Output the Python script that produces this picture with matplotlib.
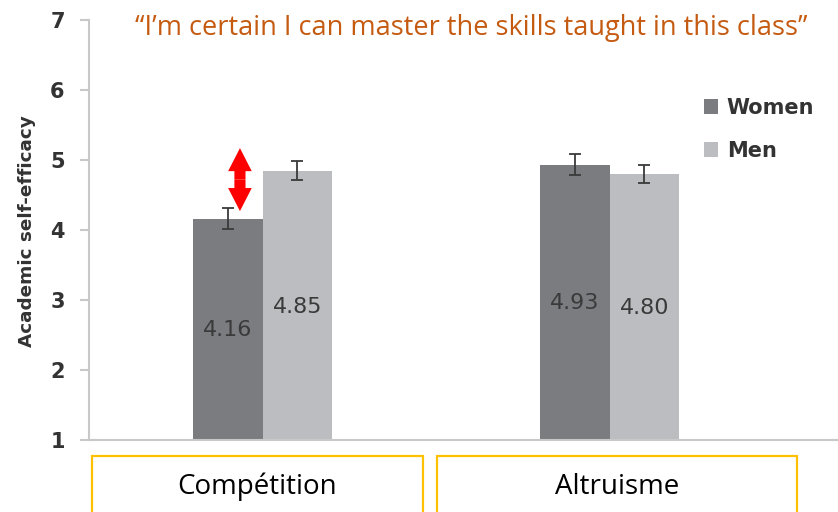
import matplotlib
matplotlib.use("Agg")
import matplotlib.pyplot as plt
from matplotlib.patches import Rectangle
import numpy as np

# data
categories = ["Compétition", "Altruisme"]
women = [4.16, 4.93]
men = [4.85, 4.80]
women_err = [0.15, 0.15]
men_err = [0.14, 0.13]
women_labels = ["4.16", "4.93"]
men_labels = ["4.85", "4.80"]

plt.rcParams['font.family'] = ['Open Sans', 'DejaVu Sans']

fig = plt.figure(figsize=(8.38, 5.12), dpi=100)
ax = fig.add_axes([89 / 838, 72 / 512, 1 - 89 / 838, 420 / 512])

x = np.arange(len(categories))
w = 0.2
c_women = "#7b7c80"
c_men = "#bcbdc0"
ecol = "#3a3a3a"

ax.bar(x - w / 2, np.array(women) - 1, w, bottom=1, color=c_women, label="Women",
       yerr=women_err, error_kw=dict(ecolor=ecol, elinewidth=1.3, capsize=4.5, capthick=1.3))
ax.bar(x + w / 2, np.array(men) - 1, w, bottom=1, color=c_men, label="Men",
       yerr=men_err, error_kw=dict(ecolor=ecol, elinewidth=1.3, capsize=4.5, capthick=1.3))

# value labels inside the bars
label_y_women = [2.57, 2.96]
label_y_men = [2.90, 2.89]
for i in range(len(categories)):
    ax.text(x[i] - w / 2, label_y_women[i], women_labels[i], ha="center", va="center",
            fontsize=16, color="#3a3a3a", family="DejaVu Sans")
    ax.text(x[i] + w / 2, label_y_men[i], men_labels[i], ha="center", va="center",
            fontsize=16, color="#3a3a3a", family="DejaVu Sans")

ax.set_xlim(-0.5, (838 - 89) / 347 - 0.5)
ax.set_ylim(1, 7)
ax.set_yticks(range(1, 8))
ax.set_xticks([])
ax.tick_params(axis="y", length=6.5, width=1.5, color="#c8c8c8", pad=11,
               labelsize=15, labelcolor="#333333")
for lab in ax.get_yticklabels():
    lab.set_fontweight("bold")
    lab.set_family("DejaVu Sans")
for s in ["top", "right"]:
    ax.spines[s].set_visible(False)
for s in ["left", "bottom"]:
    ax.spines[s].set_color("#c8c8c8")
    ax.spines[s].set_linewidth(1.5)

fig.text(27 / 838, 1 - 231 / 512, "Academic self-efficacy", rotation=90, ha="center",
         va="center", fontsize=13.2, fontweight="bold", color="#333333", family="DejaVu Sans")

# red double arrow showing the gap: two filled arrows pointing outward
mid = (4.27 + 5.17) / 2
for end in (5.17, 4.27):
    ax.annotate("", xy=(-0.065, end), xytext=(-0.065, mid),
                arrowprops=dict(arrowstyle="simple,head_width=0.85,head_length=0.83,tail_width=0.4",
                                mutation_scale=20, color="#ff0000", lw=0,
                                shrinkA=0, shrinkB=0))

handles, labels = ax.get_legend_handles_labels()
fig.legend(handles, labels, loc="upper left", bbox_to_anchor=(685 / 838, 1 - 79 / 512),
           frameon=False, prop=dict(family="DejaVu Sans", weight="bold", size=15),
           labelcolor="#333333", handlelength=0.7, handleheight=0.7,
           handletextpad=0.4, labelspacing=1.1)

# title quote
fig.text(471 / 838, 1 - 28 / 512, "\u201cI\u2019m certain I can master the skills taught in this class\u201d",
         ha="center", va="center", fontsize=19.5, color="#c55a11")

# category boxes below the axis
boxes = [(92, 423), (437, 797)]
for (x0, x1), name in zip(boxes, categories):
    fig.patches.append(Rectangle((x0 / 838, -0.02), (x1 - x0) / 838, (512 - 456) / 512 + 0.02,
                                 transform=fig.transFigure, fill=False,
                                 edgecolor="#ffc000", lw=1.6))
    fig.text((x0 + x1) / 2 / 838, 1 - 487 / 512, name, ha="center", va="center",
             fontsize=20, color="black")

fig.savefig("out.png", dpi=100)
